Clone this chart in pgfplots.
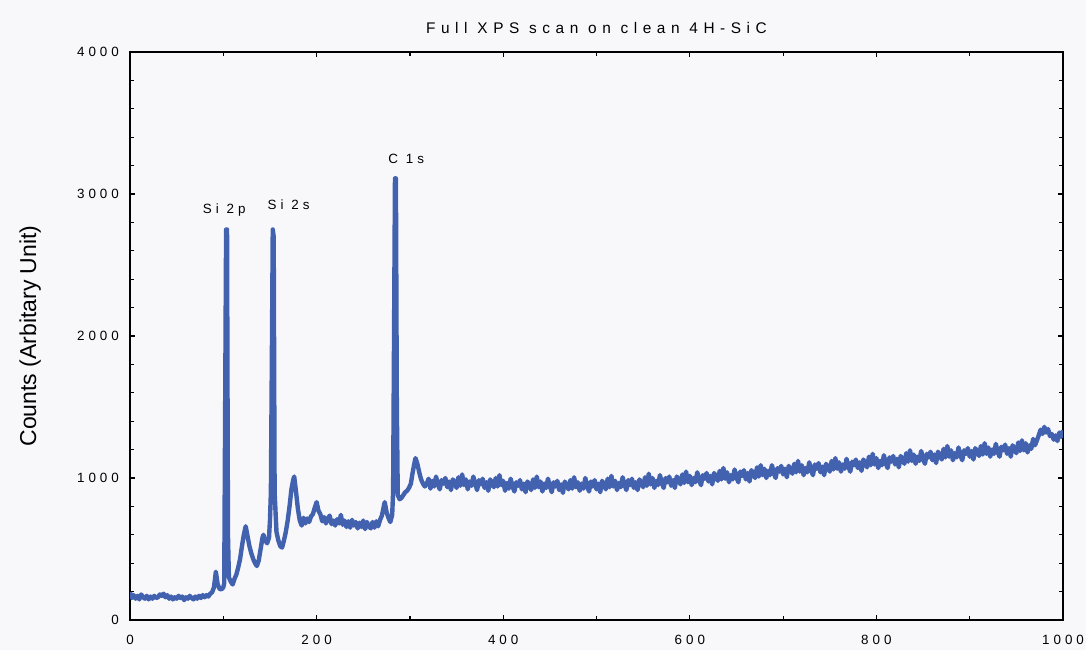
\documentclass[border=0pt]{standalone}
\usepackage{fontspec}
\setmainfont{Liberation Sans}
\newfontfamily\spaced[LetterSpace=30]{Liberation Sans}
\newfontfamily\titlefont[LetterSpace=36]{Liberation Sans}
\usepackage{pgfplots}
\pgfplotsset{compat=1.18}
\definecolor{xpsblue}{RGB}{66,98,176}
\pagecolor[RGB]{248,248,250}
\begin{document}
\begin{tikzpicture}
\begin{axis}[
  name=ax,
  scale only axis,
  width=466.5pt, height=284pt,
  xmin=0, xmax=1000, ymin=0, ymax=4000,
  xtick={0,200,...,1000}, minor x tick num=1,
  ytick={0,1000,...,4000}, minor y tick num=4,
  tick align=inside,
  major tick length=2.5pt, minor tick length=1.8pt,
  tick style={black, line width=0.6pt},
  axis line style={black, line width=1.1pt},
  /pgf/number format/assume math mode=true,
  /pgf/number format/1000 sep={},
  ticklabel style={font=\spaced\fontsize{6.7}{7}\selectfont},
  xticklabel style={yshift=-4pt},
  yticklabel style={xshift=-2pt},
  title={\titlefont\fontsize{7.7}{9}\selectfont Full XPS scan on clean 4H-SiC},
  title style={at={(axis description cs:0.5,1)}, anchor=base, yshift=3pt},
  ylabel={Counts (Arbitary Unit)},
  ylabel style={at={(axis description cs:-0.107,0.5)}, anchor=center, font=\fontsize{11.5}{13}\selectfont},
]
\addplot[xpsblue, line width=2.2pt, line join=round] coordinates {
(0,195)(2,155)(4,175)(6,150)(8,170)(10,145)(12,180)(14,160)(16,150)(18,170)
(20,145)(22,165)(24,150)(26,170)(28,155)(30,160)(32,180)(34,170)(36,185)(38,160)
(40,175)(42,150)(44,165)(46,145)(48,160)(50,150)(52,170)(54,155)(56,165)(58,140)
(60,160)(62,150)(64,170)(66,155)(68,145)(70,165)(72,150)(74,170)(76,155)(78,175)
(80,160)(82,175)(84,165)(86,185)(88,195)
(90,230)(92,340)(94,250)(96,220)(98,215)(100,230)(101,260)(102,1500)(103,2750)(104,2750)
(105,600)(106,300)(108,270)(110,250)(112,290)(114,320)(116,370)(118,430)(120,520)(122,600)
(124,660)(126,590)(128,520)(130,470)(132,430)(134,400)(136,380)(138,420)(140,500)(142,580)
(143,600)(145,560)(147,540)(149,580)(150,700)(151,900)(152,1800)(153,2750)(154,2700)(155,900)
(157,620)(159,560)(161,520)(163,510)(165,560)(167,620)(169,700)(171,800)(173,920)(175,990)
(176,1010)(178,900)
(180,780)(182,700)(184,665)(186,720)(188,680)(190,715)(192,690)(194,730)(196,745)(198,790)
(200,830)(202,770)(204,745)(206,695)(208,725)(210,680)(212,715)(214,735)(216,675)(218,700)
(220,665)(222,710)(224,680)(226,740)(228,670)(230,700)(232,655)(234,695)(236,650)(238,705)
(240,665)(242,690)(244,645)(246,685)(248,655)(250,700)(252,640)(254,690)(256,660)(258,645)
(260,690)(262,650)(264,695)(266,660)(268,705)(270,735)(272,800)(273,830)
(275,760)(277,720)(279,690)(281,740)(282,900)(283,2000)(284,3110)(285,3110)(286,1500)(287,880)
(289,850)(291,860)(293,880)(295,900)(297,910)(299,930)(301,960)(303,1040)(305,1110)(306,1140)
(308,1100)(310,1040)(312,990)(314,960)(316,940)(318,960)
(320,995)(322,925)(324,980)(326,940)(328,1010)(330,955)(332,920)(334,985)(336,960)(338,1000)
(340,935)(342,975)(344,915)(346,990)(348,970)(350,930)(352,1005)(354,945)(356,1025)(358,950)
(360,990)(362,920)(364,975)(366,945)(368,1010)(370,960)(372,915)(374,985)(376,955)(378,995)
(380,930)(382,970)(384,910)(386,990)(388,965)(390,935)(392,1000)(394,940)(396,1020)(398,950)
(400,980)(402,910)(404,965)(406,925)(408,995)(410,940)(412,905)(414,970)(416,945)(418,985)
(420,920)(422,960)(424,900)(426,975)(428,955)(430,915)(432,990)(434,930)(436,1010)(438,935)
(440,975)(442,905)(444,960)(446,930)(448,995)(450,945)(452,900)(454,970)(456,940)(458,980)
(460,915)(462,955)(464,895)(466,975)(468,950)(470,920)(472,985)(474,925)(476,1005)(478,935)
(480,970)(482,910)(484,960)(486,925)(488,1000)(490,945)(492,905)(494,975)(496,940)(498,985)
(500,920)(502,960)(504,900)(506,980)(508,955)(510,920)(512,995)(514,935)(516,1015)(518,940)
(520,980)(522,915)(524,965)(526,935)(528,1005)(530,955)(532,915)(534,985)(536,950)(538,995)
(540,930)(542,970)(544,915)(546,990)(548,965)(550,935)(552,1005)(554,945)(556,1030)(558,955)
(560,1000)(562,930)(564,980)(566,950)(568,1020)(570,965)(572,930)(574,1000)(576,970)(578,1010)
(580,945)(582,985)(584,930)(586,1010)(588,990)(590,955)(592,1025)(594,965)(596,1045)(598,970)
(600,1015)(602,950)(604,1000)(606,970)(608,1040)(610,985)(612,950)(614,1020)(616,995)(618,1035)
(620,975)(622,1015)(624,955)(626,1035)(628,1010)(630,980)(632,1050)(634,990)(636,1070)(638,995)
(640,1040)(642,970)(644,1020)(646,990)(648,1060)(650,1005)(652,970)(654,1045)(656,1015)(658,1055)
(660,990)(662,1035)(664,975)(666,1055)(668,1030)(670,1000)(672,1075)(674,1010)(676,1090)(678,1020)
(680,1065)(682,1000)(684,1050)(686,1020)(688,1090)(690,1035)(692,1000)(694,1070)(696,1045)(698,1085)
(700,1025)(702,1065)(704,1005)(706,1085)(708,1060)(710,1030)(712,1100)(714,1040)(716,1120)(718,1045)
(720,1090)(722,1020)(724,1070)(726,1040)(728,1110)(730,1055)(732,1020)(734,1095)(736,1065)(738,1105)
(740,1040)(742,1080)(744,1020)(746,1100)(748,1075)(750,1045)(752,1120)(754,1060)(756,1140)(758,1065)
(760,1110)(762,1045)(764,1095)(766,1065)(768,1135)(770,1080)(772,1045)(774,1115)(776,1090)(778,1130)
(780,1070)(782,1110)(784,1050)(786,1130)(788,1105)(790,1075)(792,1150)(794,1090)(796,1170)(798,1095)
(800,1140)(802,1070)(804,1120)(806,1090)(808,1160)(810,1105)(812,1070)(814,1145)(816,1115)(818,1155)
(820,1095)(822,1135)(824,1075)(826,1155)(828,1130)(830,1100)(832,1175)(834,1115)(836,1195)(838,1120)
(840,1165)(842,1100)(844,1150)(846,1120)(848,1190)(850,1135)(852,1100)(854,1170)(856,1145)(858,1185)
(860,1125)(862,1165)(864,1105)(866,1185)(868,1160)(870,1130)(872,1205)(874,1145)(876,1225)(878,1150)
(880,1195)(882,1125)(884,1175)(886,1145)(888,1215)(890,1160)(892,1125)(894,1195)(896,1170)(898,1210)
(900,1150)(902,1190)(904,1130)(906,1210)(908,1185)(910,1155)(912,1225)(914,1165)(916,1245)(918,1170)
(920,1215)(922,1150)(924,1200)(926,1170)(928,1240)(930,1185)(932,1150)(934,1220)(936,1195)(938,1235)
(940,1170)(942,1210)(944,1150)(946,1230)(948,1205)(950,1175)(952,1250)(954,1190)(956,1265)(958,1195)
(960,1245)(962,1180)(964,1230)(966,1205)(968,1275)(970,1230)(972,1265)(974,1300)(976,1340)(978,1310)
(980,1360)(982,1320)(984,1345)(986,1295)(988,1310)(990,1270)(992,1300)(994,1260)(996,1320)(998,1290)
(1000,1335)
};
\node[font=\spaced\fontsize{6.7}{7}\selectfont, anchor=base] at (axis cs:101,2860) {Si 2p};
\node[font=\spaced\fontsize{6.7}{7}\selectfont, anchor=base] at (axis cs:170,2890) {Si 2s};
\node[font=\spaced\fontsize{6.7}{7}\selectfont, anchor=base] at (axis cs:296,3215) {C 1s};
\end{axis}
\pgfresetboundingbox
\path[use as bounding box] ([shift={(-65pt,-15pt)}]ax.south west) rectangle ([shift={(11.5pt,26pt)}]ax.north east);
\end{tikzpicture}
\end{document}
